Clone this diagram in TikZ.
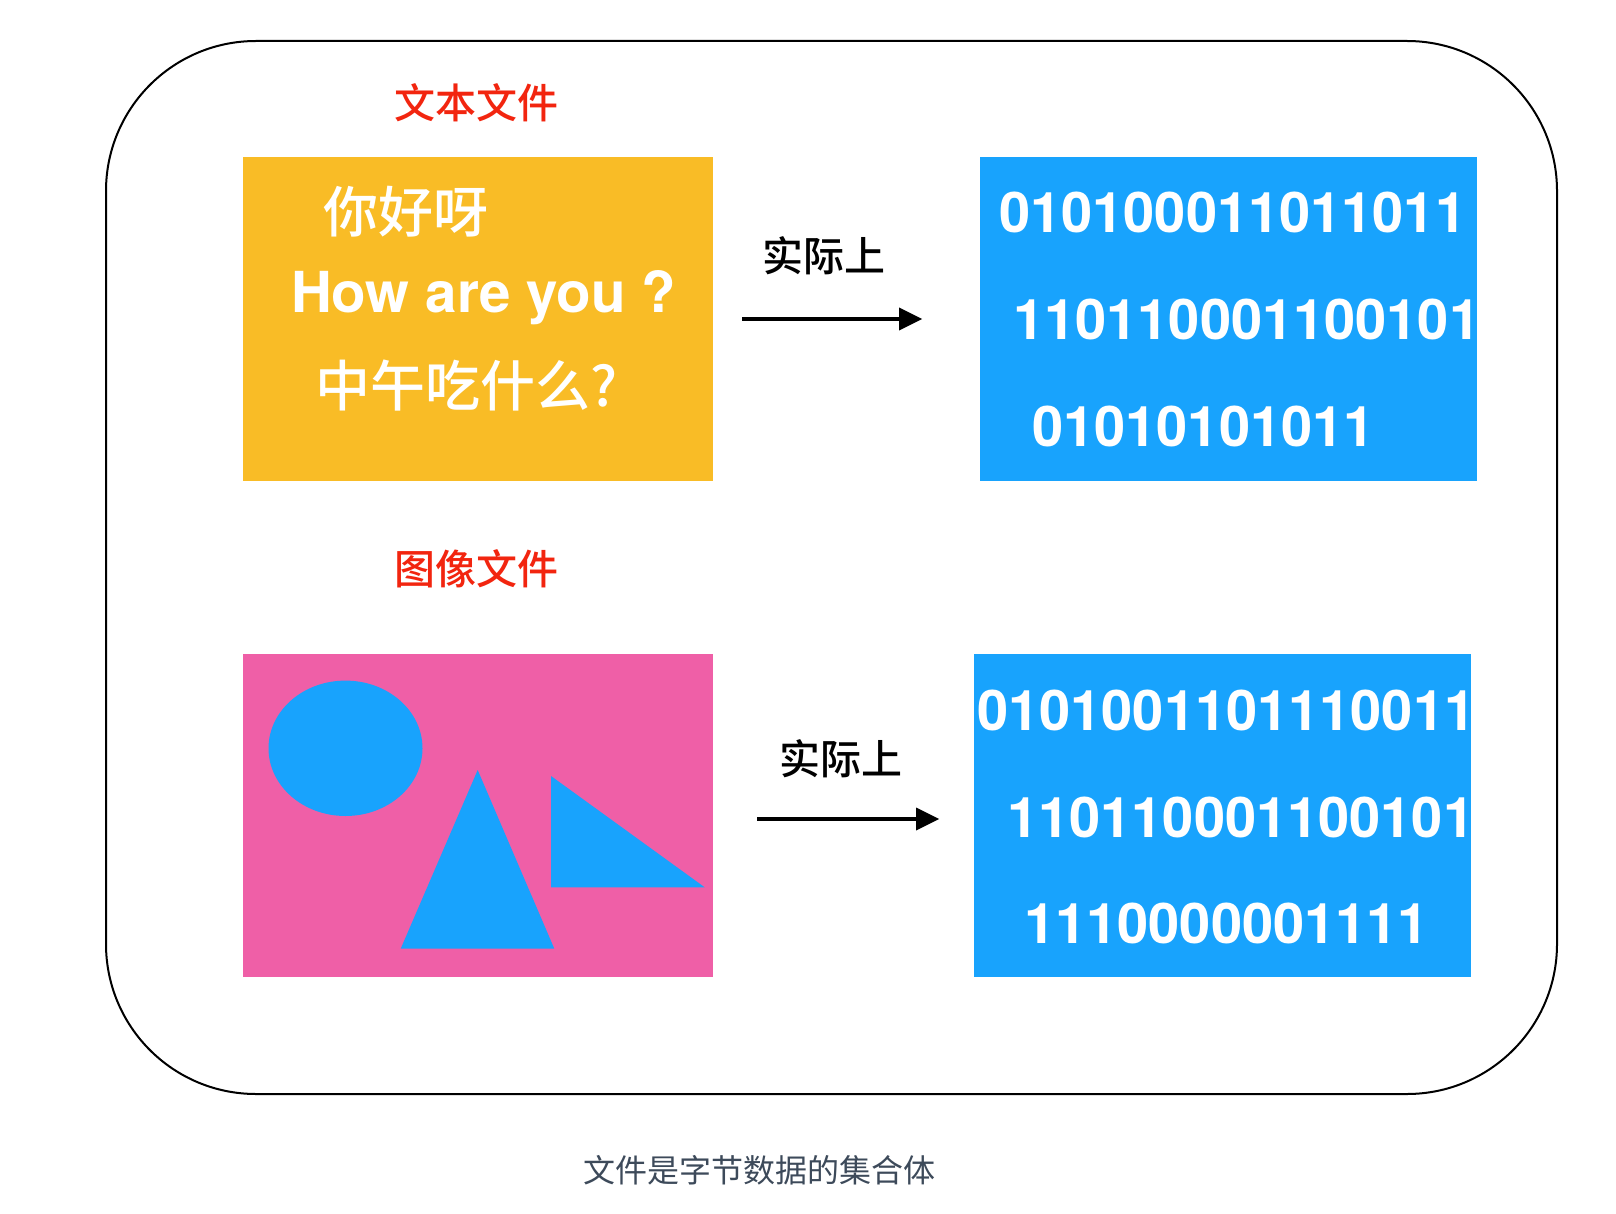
\documentclass[tikz,border=0pt]{standalone}
\usepackage{fontspec}
\setmainfont{TeX Gyre Heros}
\newfontfamily\cjk{Noto Sans CJK SC}
\newfontfamily\cjkmed{Noto Sans CJK SC Medium}
\usepackage{xcolor}
\usetikzlibrary{arrows.meta,positioning}

\definecolor{fileyellow}{HTML}{F9BC26}
\definecolor{bitblue}{HTML}{18A3FD}
\definecolor{imgpink}{HTML}{EF5FA7}
\definecolor{labelred}{HTML}{F2250F}
\definecolor{captiongray}{HTML}{3D4A5A}

\begin{document}
\begin{tikzpicture}[
  x=1pt, y=-1pt,
  >={Triangle[length=23pt,width=22pt]},
  panel/.style={
    draw=none, inner sep=0pt,
    minimum width=470pt, minimum height=323pt
  },
  bits/.style={panel, fill=bitblue, minimum width=497pt},
  hdr/.style={text=labelred, font=\cjkmed\fontsize{41}{45}\selectfont},
  via/.style={text=black, font=\cjkmed\fontsize{41}{45}\selectfont},
  wtext/.style={text=white, inner sep=0pt},
  bin/.style={wtext, anchor=base west, font=\bfseries\fontsize{56}{60}\selectfont},
  arr/.style={->, line width=3.6pt, black},
  blob/.style={fill=bitblue}
]
  \useasboundingbox (0,0) rectangle (1616,1214);

  % outer frame
  \draw[line width=2pt, rounded corners=150pt] (106,41) rectangle (1557,1094);

  % text file
  \node[panel, fill=fileyellow] (txtfile) at (478,319) {};
  \node[bits, right=267pt of txtfile] (txtbits) {};
  \node[hdr] (txthdr) at (476.5,102.5) {文本文件};

  \node[wtext, anchor=west, font=\cjkmed\fontsize{55}{60}\selectfont]
    (hello) at (323,212) {你好呀};
  \node[wtext, anchor=base west, font=\bfseries\fontsize{56.5}{60}\selectfont]
    (howru) at (291,313) {How are you ?};
  \node[wtext, anchor=west, font=\cjkmed\fontsize{55}{60}\selectfont]
    (lunch) at (315,386) {中午吃什么?};

  \begin{scope}
    \clip (txtbits.south west) rectangle (txtbits.north east);
    \foreach \i/\x/\y/\s in {1/999/233/010100011011011,
                            2/1013/339/110110001100101,
                            3/1032/446/01010101011}
      \node[bin] (tb\i) at (\x,\y) {\s};
  \end{scope}

  \draw[arr, shorten <=29pt, shorten >=58pt] (txtfile) -- (txtbits);
  \node[via] (txtvia) at (824,256) {实际上};

  % image file
  \node[panel, fill=imgpink] (imgfile) at (478,815.5) {};
  \node[bits, right=261pt of imgfile] (imgbits) {};
  \node[hdr] (imghdr) at (476.5,569) {图像文件};

  \fill[blob] (345.5,748.3) ellipse [x radius=77, y radius=67.7];
  \fill[blob] (477.7,770) -- (554.3,948.7) -- (400.7,948.7) -- cycle;
  \fill[blob] (551,776) -- (704.7,887.3) -- (551,887.3) -- cycle;

  \begin{scope}
    \clip (imgbits.south west) rectangle (imgbits.north east);
    \foreach \i/\x/\y/\s in {1/977/730/0101001101110011,
                            2/1007/837/110110001100101,
                            3/1024/943/1110000001111}
      \node[bin] (ib\i) at (\x,\y) {\s};
  \end{scope}

  \draw[arr, shorten <=44pt, shorten >=35pt, transform canvas={yshift=-3.5pt}]
    (imgfile) -- (imgbits);
  \node[via] (imgvia) at (841,758.5) {实际上};

  % caption
  \node[text=captiongray, font=\cjk\fontsize{32}{36}\selectfont]
    (caption) at (759,1170) {文件是字节数据的集合体};
\end{tikzpicture}
\end{document}
